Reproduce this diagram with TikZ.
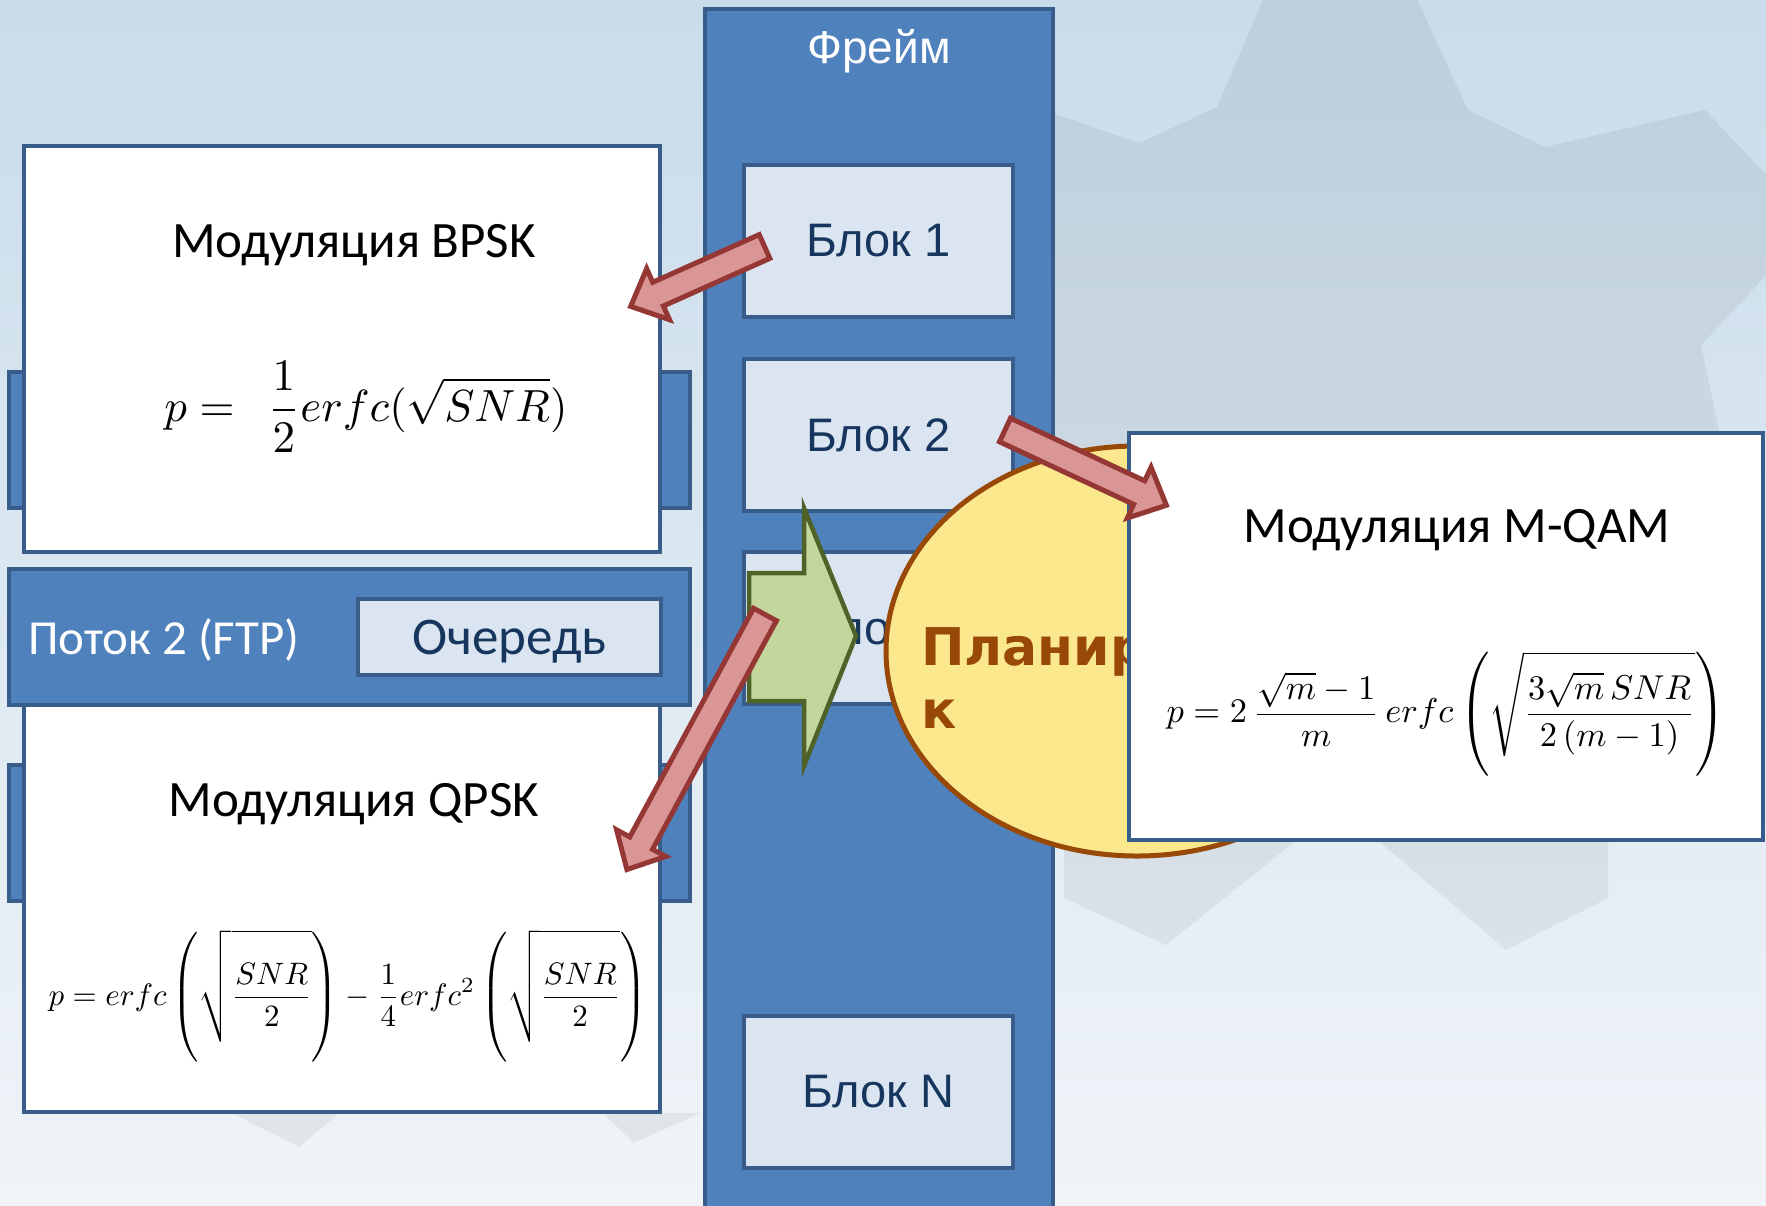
\documentclass[tikz,border=0pt]{standalone}
\usepackage{fontspec}
\usepackage{graphicx}
\setmainfont{Carlito}
\newfontfamily\arialf{Liberation Sans}
\newfontfamily\dejavu{DejaVu Sans}
\usetikzlibrary{calc,shapes.geometric}
\definecolor{bgtop}{HTML}{C8DCEA}
\definecolor{bgmid}{HTML}{DCE8F0}
\definecolor{bgbot}{HTML}{F0F4F8}
\definecolor{pblue}{HTML}{4F81BD}
\definecolor{pedge}{HTML}{385D8A}
\definecolor{blkfill}{HTML}{DBE5F1}
\definecolor{blktext}{HTML}{17365D}
\definecolor{yfill}{HTML}{FBE88C}
\definecolor{yedge}{HTML}{984807}
\definecolor{gfill}{HTML}{C3D69B}
\definecolor{gedge}{HTML}{4F6228}
\definecolor{rfill}{HTML}{D99694}
\definecolor{redge}{HTML}{953735}
\newcommand{\fatarrow}[2]{%
  \coordinate (#1-h) at ($(#2)!30pt!(#1)$);
  \draw[redarrow] ($(#1)!13pt!90:(#2)$) -- ($(#1-h)!13pt!90:(#2)$) -- ($(#1-h)!28pt!90:(#2)$) -- (#2) -- ($(#1-h)!28pt!-90:(#2)$) -- ($(#1-h)!13pt!-90:(#2)$) -- ($(#1)!13pt!-90:(#2)$) -- cycle;}
\begin{document}
\begin{tikzpicture}[x=1pt,y=-1pt,
  bluebox/.style={draw=pedge,fill=pblue,line width=4.5pt,inner sep=0pt},
  blockbox/.style={draw=pedge,fill=blkfill,line width=4.5pt,inner sep=0pt,minimum width=269,minimum height=152,text=blktext,font=\arialf\fontsize{47}{56}\selectfont},
  whitebox/.style={draw=pedge,fill=white,line width=4.5pt,inner sep=0pt},
  titletext/.style={font=\fontsize{51}{62}\selectfont,text=black,anchor=base,inner sep=0pt},
  redarrow/.style={draw=redge,fill=rfill,line width=5pt,line join=miter},
  gear/.style={fill=black,fill opacity=0.055}
]
\useasboundingbox (0,0) rectangle (1766,1205);
\clip (0,0) rectangle (1766,1205);
% background
\shade[top color=bgtop, middle color=bgmid, bottom color=bgbot] (0,0) rectangle (1766,1205);
\fill[gear] (1000,95) -- (1139,143) -- (1217,107) -- (1265,-5) -- (1415,-5) -- (1468,110) -- (1545,147) -- (1705,110) -- (1790,200) -- (1790,250) -- (1701,345) -- (1719,430) -- (1760,600) -- (1700,800) -- (1608,843) -- (1608,898) -- (1506,950) -- (1381,843) -- (1340,810) -- (1293,843) -- (1166,945) -- (1064,898) -- (1064,843) -- (1000,700) -- cycle;
\fill[gear] (232,1113) -- (339,1113) -- (299,1147) -- cycle;
\fill[gear] (603,1113) -- (700,1113) -- (634,1143) -- cycle;
% frame
\node[bluebox,minimum width=348,minimum height=1221] (frame) at (879,619.5) {};
\node[font=\arialf\fontsize{46}{55}\selectfont,text=white,anchor=base,inner sep=0pt] (frametitle) at (879,63) {Фрейм};
\node[blockbox] (b1) at (878.5,241) {Блок 1};
\node[blockbox] (b2) at (878.5,435) {Блок 2};
\node[blockbox] (b3) at (878.5,628) {Блок 3};
\node[blockbox] (bn) at (878.5,1092) {Блок N};
% flows
\node[bluebox,minimum width=681,minimum height=136] (f1) at (349.5,440) {};
\node[whitebox,minimum width=636,minimum height=406] (bpsk) at (342,349) {};
\node[bluebox,minimum width=681,minimum height=136] (f3) at (349.5,833) {};
\node[whitebox,minimum width=636,minimum height=422] (qpsk) at (342,901) {};
\node[bluebox,minimum width=681,minimum height=136] (f2) at (349.5,637) {};
\node[font=\fontsize{49}{59}\selectfont,text=white,anchor=base west,inner sep=0pt] (f2t) at (28,654) {Поток 2 (FTP)};
\node[draw=pedge,fill=blkfill,line width=4.5pt,inner sep=0pt,minimum width=303,minimum height=76] (queue) at (509.5,637) {};
\node[font=\fontsize{53}{63}\selectfont,text=blktext,anchor=base,inner sep=0pt] (queuet) at (509.5,654) {Очередь};
\node[titletext] (bpskt) at (354,257) {Модуляция BPSK};
\node[titletext] (qpskt) at (354,816) {Модуляция QPSK};
\node (bpskf) at (366,407) {\scalebox{4.5}{$\displaystyle p =\;\, \frac{1}{2}erfc(\sqrt{SNR})$}};
\node (qpskf) at (348,996) {\scalebox{3.1}{$\displaystyle p = erfc\left(\sqrt{\frac{SNR}{2}\rule[-10pt]{0pt}{30pt}}\right) - \frac{1}{4}erfc^2\left(\sqrt{\frac{SNR}{2}\rule[-10pt]{0pt}{30pt}}\right)$}};
% green arrow
\draw[draw=gedge,fill=gfill,line width=4.5pt,line join=miter] (749,573) -- (804,573) -- (804,508) -- (856,636) -- (804,766) -- (804,701) -- (749,701) -- cycle;
% scheduler
\node[ellipse,draw=yedge,fill=yfill,line width=5pt,minimum width=502,minimum height=410,inner sep=0pt] (sched) at (1137,651) {};
\node[font=\dejavu\bfseries\fontsize{52}{63}\selectfont,text=yedge,anchor=north west,align=left,inner sep=0pt] (schedt) at (921,627) {Планировщи\\к};
% M-QAM
\node[whitebox,minimum width=634,minimum height=407] (mqam) at (1446,636.5) {};
\node[titletext] (mqamt) at (1457,542) {Модуляция M-QAM};
\node (mqamf) at (1446,714) {\scalebox{3.45}{$\displaystyle p = 2\,\frac{\sqrt{m}-1}{m}\,erfc\left(\sqrt{\frac{3\sqrt{m}\,SNR}{2\,(m-1)}\rule[-8pt]{0pt}{26pt}}\right)$}};
% red arrows
\coordinate (a1s) at (764.5,246.5); \coordinate (a1e) at (630.7,306.4);
\coordinate (a2s) at (1005,430); \coordinate (a2e) at (1166.4,505.3);
\coordinate (a3s) at (765,614.5); \coordinate (a3e) at (626.9,869.5);
\fatarrow{a1s}{a1e}
\fatarrow{a2s}{a2e}
\fatarrow{a3s}{a3e}
\end{tikzpicture}
\end{document}
